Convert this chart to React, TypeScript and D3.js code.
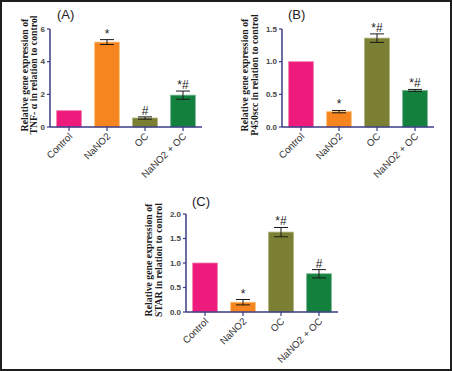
import React from "react";
import * as d3 from "d3";

const W = 452;
const H = 371;

const categories = ["Control", "NaNO2", "OC", "NaNO2 + OC"];
const barColors = ["#EC1B7C", "#F6851F", "#7B7F33", "#14803E"];
const barStrokes = ["#F27DB0", "#FBC27A", "#A9AC72", "#6FB38A"];

// (A) TNF-alpha
const tnfValues = [1.0, 5.2, 0.55, 1.95];
const tnfErrors = [0, 0.15, 0.07, 0.25];
const tnfMarks = ["", "*", "#", "*#"];
const tnfTicks = [0, 2, 4, 6];

// (B) P450scc
const p450Values = [1.0, 0.235, 1.36, 0.56];
const p450Errors = [0, 0.018, 0.065, 0.015];
const p450Marks = ["", "*", "*#", "*#"];
const p450Ticks = [0, 0.5, 1.0, 1.5];

// (C) STAR
const starValues = [1.0, 0.2, 1.63, 0.78];
const starErrors = [0, 0.055, 0.095, 0.085];
const starMarks = ["", "*", "*#", "#"];
const starTicks = [0, 0.5, 1.0, 1.5, 2.0];

const axisColor = "#3B3B86";
const sans = "'Liberation Sans', Arial, sans-serif";
const serif = "'Liberation Serif', 'Times New Roman', serif";

type PanelProps = {
  axisX: number;
  top: number;
  bottom: number;
  values: number[];
  errors: number[];
  marks: string[];
  ticks: number[];
  fmt: (n: number) => string;
  title: string;
  titleX: number;
  titleY: number;
  labels: string[];
  labelOffsets: number[];
};

const Panel = (p: PanelProps) => {
  const plotW = 152;
  const x = d3
    .scaleBand()
    .domain(categories)
    .range([p.axisX, p.axisX + plotW])
    .paddingInner(0.35)
    .paddingOuter(0.175);
  const y = d3
    .scaleLinear()
    .domain([0, p.ticks[p.ticks.length - 1]])
    .range([p.bottom, p.top]);
  const bw = x.bandwidth();
  const midY = (p.top + p.bottom) / 2 - 3;

  return (
    <g>
      <text x={p.titleX} y={p.titleY} fontFamily={sans} fontSize={13} fill="#222">
        {p.title}
      </text>
      {p.labels.map((l, i) => (
        <text
          key={l}
          transform={`translate(${p.axisX + p.labelOffsets[i]},${midY}) rotate(-90)`}
          textAnchor="middle"
          fontFamily={serif}
          fontWeight="bold"
          fontSize={9.8}
          fill="#1a1a1a"
        >
          {l}
        </text>
      ))}
      {categories.map((c, i) => {
        const v = p.values[i];
        const e = p.errors[i];
        const cx = (x(c) as number) + bw / 2;
        return (
          <g key={c}>
            <rect
              x={x(c)}
              y={y(v)}
              width={bw}
              height={p.bottom - y(v)}
              fill={barColors[i]}
              stroke={barStrokes[i]}
              strokeWidth={0.8}
            />
            {e > 0 && (
              <g stroke="#1a1a1a" strokeWidth={1}>
                <line x1={cx} x2={cx} y1={y(v - e)} y2={y(v + e)} />
                <line x1={cx - 7} x2={cx + 7} y1={y(v + e)} y2={y(v + e)} />
                <line x1={cx - 7} x2={cx + 7} y1={y(v - e)} y2={y(v - e)} />
              </g>
            )}
            {p.marks[i] && (
              <text
                x={cx}
                y={y(v + e) - 2}
                textAnchor="middle"
                fontFamily={sans}
                fontSize={12}
                fill="#222"
              >
                {p.marks[i]}
              </text>
            )}
            <line x1={cx} x2={cx} y1={p.bottom} y2={p.bottom + 4} stroke={axisColor} strokeWidth={1.2} />
            <text
              transform={`translate(${cx + 4},${p.bottom + 10}) rotate(-45)`}
              textAnchor="end"
              fontFamily={sans}
              fontSize={9.8}
              fill="#333"
            >
              {c}
            </text>
          </g>
        );
      })}
      {p.ticks.map((t) => (
        <g key={t}>
          <line x1={p.axisX - 3} x2={p.axisX} y1={y(t)} y2={y(t)} stroke={axisColor} strokeWidth={1.2} />
          <text
            x={p.axisX - 5}
            y={y(t)}
            dy="0.35em"
            textAnchor="end"
            fontFamily={sans}
            fontWeight="bold"
            fontSize={8}
            fill="#444"
          >
            {p.fmt(t)}
          </text>
        </g>
      ))}
      <line x1={p.axisX} x2={p.axisX} y1={p.top} y2={p.bottom} stroke={axisColor} strokeWidth={1.5} />
      <line x1={p.axisX} x2={p.axisX + plotW} y1={p.bottom} y2={p.bottom} stroke={axisColor} strokeWidth={1.5} />
    </g>
  );
};

const App = () => {
  const f0 = d3.format("d");
  const f1 = d3.format(".1f");
  return (
    <div style={{ position: "fixed", left: 0, top: 0 }}>
      <svg width={W} height={H}>
        <rect x={0} y={0} width={W} height={H} fill="#fff" />
        <Panel
          axisX={50}
          top={29}
          bottom={127}
          values={tnfValues}
          errors={tnfErrors}
          marks={tnfMarks}
          ticks={tnfTicks}
          fmt={f0}
          title="(A)"
          titleX={57}
          titleY={19}
          labels={["Relative gene expression of", "TNF- α in relation to control"]}
          labelOffsets={[-22, -13]}
        />
        <Panel
          axisX={282}
          top={29}
          bottom={127}
          values={p450Values}
          errors={p450Errors}
          marks={p450Marks}
          ticks={p450Ticks}
          fmt={f1}
          title="(B)"
          titleX={288}
          titleY={19}
          labels={["Relative gene expression of", "P450scc in relation to control"]}
          labelOffsets={[-34, -24]}
        />
        <Panel
          axisX={186}
          top={214}
          bottom={312}
          values={starValues}
          errors={starErrors}
          marks={starMarks}
          ticks={starTicks}
          fmt={f1}
          title="(C)"
          titleX={192}
          titleY={206}
          labels={["Relative gene expression of", "STAR in relation to control"]}
          labelOffsets={[-34, -24]}
        />
        <rect x={1} y={1} width={W - 2} height={H - 2} fill="none" stroke="#1e1e1e" strokeWidth={2} />
      </svg>
    </div>
  );
};

export default App;
